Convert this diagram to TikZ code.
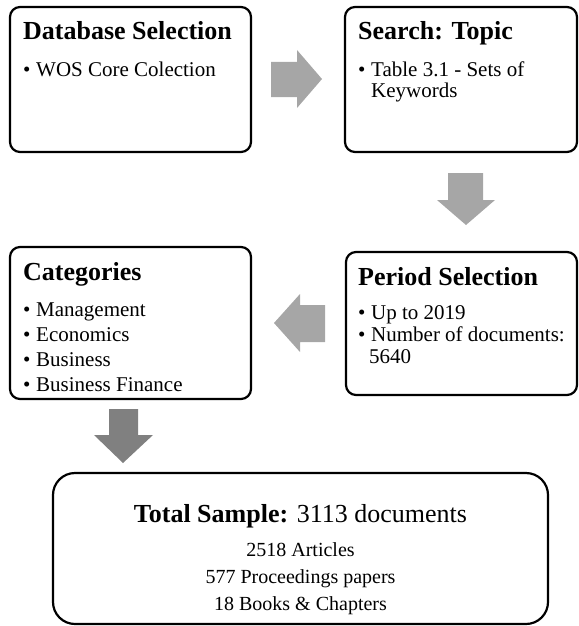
\documentclass[tikz,border=0pt]{standalone}
\usepackage{fontspec}
\setmainfont{Liberation Serif}
\definecolor{arrowlight}{RGB}{166,166,166}
\definecolor{arrowdark}{RGB}{128,128,128}
\tikzset{
  box/.style={draw=black, line width=2.2pt, rounded corners=10pt, inner sep=0pt, outer sep=0pt, anchor=north west},
  bigbox/.style={box, rounded corners=22pt},
  ttl/.style={anchor=base west, inner sep=0pt, font=\fontsize{26}{30}\selectfont\bfseries},
  itm/.style={anchor=base west, inner sep=0pt, font=\fontsize{21}{24}\selectfont},
  sumline/.style={anchor=base, inner sep=0pt, font=\fontsize{20}{24}\selectfont},
  lightarrow/.style={fill=arrowlight, draw=none},
  darkarrow/.style={fill=arrowdark, draw=none},
}
\newcommand{\bul}{\makebox[13pt][l]{•}}
\begin{document}
\begin{tikzpicture}[x=1pt,y=-1pt]
\useasboundingbox (0,0) rectangle (578,626);
% boxes
\node[box, minimum width=241pt, minimum height=145pt] (b1) at (10,7) {};
\node[box, minimum width=232pt, minimum height=145pt] (b2) at (345,7) {};
\node[box, minimum width=231pt, minimum height=143pt] (b3) at (346,252) {};
\node[box, minimum width=241pt, minimum height=152pt] (b4) at (10,247) {};
\node[bigbox, minimum width=495pt, minimum height=151pt] (b5) at (53,473) {};
% texts box 1
\node[ttl] (t1) at (23,40) {Database Selection};
\node[itm] (t1a) at (23,76) {\bul WOS Core Colection};
% box 2
\node[ttl] (t2) at (358,40) {Search: Topic};
\node[itm] (t2a) at (358,76) {\bul Table 3.1 - Sets of};
\node[itm] (t2b) at (371,97) {Keywords};
% box 3
\node[ttl] (t3) at (358,285) {Period Selection};
\node[itm] (t3a) at (358,319) {\bul Up to 2019};
\node[itm] (t3b) at (358,341) {\bul Number of documents:};
\node[itm] (t3c) at (369,363) {5640};
% box 4
\node[ttl] (t4) at (23,280) {Categories};
\node[itm] (t4a) at (23,316) {\bul Management};
\node[itm] (t4b) at (23,341) {\bul Economics};
\node[itm] (t4c) at (23,366) {\bul Business};
\node[itm] (t4d) at (23,391) {\bul Business Finance};
% box 5
\node[anchor=base, inner sep=0pt, font=\fontsize{26}{30}\selectfont] (t5) at (300.5,522) {\textbf{Total Sample:} 3113 documents};
\node[sumline] (t5a) at (300.5,556) {2518 Articles};
\node[sumline] (t5b) at (300.5,583) {577 Proceedings papers};
\node[sumline] (t5c) at (300.5,610) {18 Books \& Chapters};
% block arrows
\fill[lightarrow] (271,62) -- (297,62) -- (297,50) -- (322,79) -- (297,108) -- (297,97) -- (271,97) -- cycle;
\fill[lightarrow] (448,173) -- (483,173) -- (483,200) -- (495,200) -- (466,225) -- (437,200) -- (448,200) -- cycle;
\fill[lightarrow] (325,305) -- (300,305) -- (300,294) -- (274,323) -- (300,352) -- (300,342) -- (325,342) -- cycle;
\fill[darkarrow] (109,409) -- (138,409) -- (138,435) -- (153,435) -- (123,463) -- (94,435) -- (109,435) -- cycle;
\end{tikzpicture}
\end{document}
